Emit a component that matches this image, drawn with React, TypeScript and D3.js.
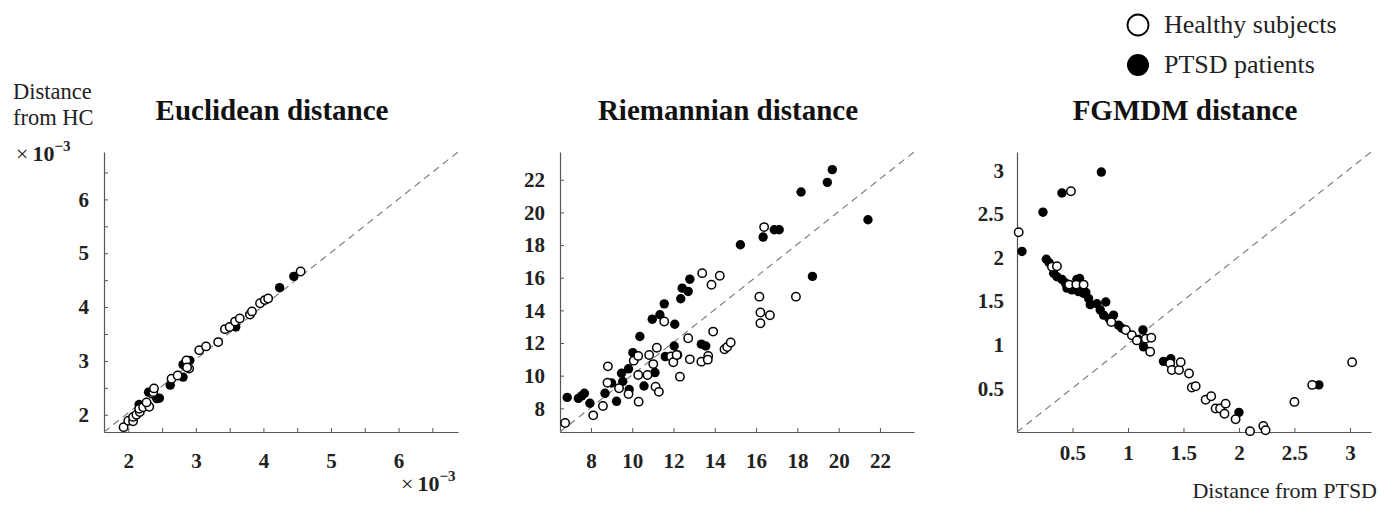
import React, { useEffect, useRef } from "react";
import * as d3 from "d3";

// values: [distance from PTSD, distance from HC]
const eucHealthy = [
  [1.93, 1.77], [2.0, 1.89], [2.07, 1.88], [2.07, 1.96], [2.12, 2.0], [2.17, 2.05], [2.16, 2.11],
  [2.22, 2.14], [2.31, 2.15], [2.27, 2.23], [2.36, 2.39], [2.37, 2.42], [2.38, 2.49], [2.64, 2.67],
  [2.73, 2.73], [2.86, 3.01], [2.9, 2.86], [2.87, 2.88], [3.05, 3.2], [3.15, 3.27], [3.33, 3.35],
  [3.43, 3.59], [3.5, 3.63], [3.58, 3.73], [3.65, 3.79], [3.8, 3.86], [3.83, 3.92], [3.95, 4.07],
  [4.02, 4.13], [4.07, 4.16], [4.55, 4.66],
];
const eucPtsd = [
  [2.16, 2.19], [2.3, 2.42], [2.35, 2.39], [2.42, 2.3], [2.46, 2.31], [2.62, 2.55], [2.81, 2.7],
  [2.81, 2.93], [2.91, 3.01], [3.59, 3.63], [4.24, 4.36], [4.45, 4.57],
];

const riemHealthy = [
  [6.75, 7.1], [8.11, 7.57], [8.58, 8.14], [8.82, 10.57], [8.8, 9.57], [9.36, 9.23], [9.82, 8.87],
  [10.07, 10.92], [10.29, 11.21], [10.29, 10.04], [10.31, 8.41], [10.74, 10.04], [10.82, 11.27],
  [11.02, 10.71], [11.19, 11.71], [11.13, 9.32], [11.29, 9.01], [11.55, 13.32], [11.88, 11.17],
  [11.99, 10.82], [12.15, 11.27], [12.31, 9.94], [12.71, 12.29], [12.79, 11.0], [13.39, 16.28],
  [13.35, 10.86], [13.68, 11.21], [13.66, 10.98], [13.84, 15.57], [13.92, 12.7], [14.24, 16.12],
  [14.47, 11.62], [14.6, 11.75], [14.77, 12.03], [16.16, 14.84], [16.21, 13.87], [16.21, 13.21],
  [16.39, 19.1], [16.67, 13.7], [17.93, 14.84],
];
const riemPtsd = [
  [6.85, 8.67], [7.39, 8.61], [7.55, 8.76], [7.68, 8.92], [7.95, 8.31], [8.68, 8.92], [9.0, 9.55],
  [9.24, 8.43], [9.48, 10.15], [9.54, 9.64], [9.85, 9.15], [9.82, 10.42], [10.03, 11.41],
  [10.37, 12.4], [10.57, 9.37], [11.1, 10.19], [10.97, 13.46], [11.34, 13.73], [11.55, 14.4],
  [11.6, 11.17], [12.06, 13.15], [12.03, 11.82], [12.2, 11.27], [12.35, 14.71], [12.42, 15.36],
  [12.71, 15.16], [12.79, 15.91], [13.35, 11.93], [13.56, 11.82], [15.24, 18.02], [16.34, 18.49],
  [16.88, 18.94], [17.12, 18.94], [18.18, 21.25], [18.73, 16.08], [19.45, 21.84], [19.69, 22.62],
  [21.42, 19.55],
];

const fgHealthy = [
  [0.015, 2.29], [0.486, 2.76], [0.315, 1.895], [0.36, 1.9], [0.47, 1.69], [0.534, 1.69],
  [0.6, 1.69], [0.85, 1.26], [0.98, 1.17], [1.035, 1.11], [1.08, 1.05], [1.16, 1.07], [1.21, 1.08],
  [1.2, 0.92], [1.38, 0.785], [1.395, 0.71], [1.46, 0.71], [1.475, 0.8], [1.55, 0.67],
  [1.575, 0.51], [1.61, 0.525], [1.7, 0.37], [1.75, 0.41], [1.79, 0.27], [1.83, 0.27],
  [1.88, 0.325], [1.87, 0.21], [1.97, 0.146], [2.1, 0.01], [2.22, 0.07], [2.24, 0.02],
  [2.5, 0.345], [2.66, 0.54], [3.02, 0.8],
];
const fgPtsd = [
  [0.76, 2.98], [0.405, 2.74], [0.234, 2.52], [0.045, 2.07], [0.264, 1.98], [0.29, 1.94],
  [0.33, 1.82], [0.36, 1.78], [0.405, 1.75], [0.435, 1.71], [0.45, 1.65], [0.495, 1.63],
  [0.54, 1.75], [0.555, 1.61], [0.6, 1.59], [0.564, 1.76], [0.62, 1.6], [0.645, 1.53],
  [0.66, 1.46], [0.72, 1.47], [0.75, 1.4], [0.8, 1.49], [0.78, 1.34], [0.83, 1.3], [0.87, 1.34],
  [0.915, 1.225], [0.945, 1.19], [1.095, 1.06], [1.135, 1.17], [1.14, 0.976], [1.32, 0.81],
  [1.386, 0.84], [2.0, 0.225], [2.72, 0.54],
];

const titles = ["Euclidean distance", "Riemannian distance", "FGMDM distance"];
const legendLabels = ["Healthy subjects", "PTSD patients"];

const eucTicks = [2, 2.5, 3, 3.5, 4, 4.5, 5, 5.5, 6, 6.5];
const riemTicks = [8, 10, 12, 14, 16, 18, 20, 22];
const fgTicks = [0.5, 1, 1.5, 2, 2.5, 3];

const serif = "'Liberation Serif', 'Times New Roman', serif";
const W = 1385, H = 505;

const panels = [
  { title: titles[0], left: 104, right: 458, xDom: [1.64, 6.88], yDom: [1.68, 6.88], ticks: eucTicks,
    yTicks: true, healthy: eucHealthy, ptsd: eucPtsd, labelPad: 21, titleX: 272 },
  { title: titles[1], left: 560, right: 914, xDom: [6.5, 23.65], yDom: [6.55, 23.7], ticks: riemTicks,
    yTicks: true, healthy: riemHealthy, ptsd: riemPtsd, labelPad: 21, titleX: 728 },
  { title: titles[2], left: 1017, right: 1371, xDom: [0, 3.19], yDom: [0, 3.21], ticks: fgTicks,
    yTicks: false, healthy: fgHealthy, ptsd: fgPtsd, labelPad: 13, titleX: 1185 },
];

const App = () => {
  const ref = useRef<SVGGElement>(null);

  useEffect(() => {
    const svg = d3.select(ref.current);
    svg.selectAll("*").remove();
    const top = 152, bottom = 432;

    panels.forEach((p) => {
      const x = d3.scaleLinear().domain(p.xDom).range([p.left, p.right]);
      const y = d3.scaleLinear().domain(p.yDom).range([bottom, top]);
      const g = svg.append("g");

      const fmt = (d: number) => (Number.isInteger(d) || p.ticks === fgTicks ? String(d) : "");

      const xAxis = d3.axisBottom(x).tickValues(p.ticks).tickFormat(fmt as any)
        .tickSize(-4).tickSizeOuter(0).tickPadding(p.labelPad);
      const yAxis = d3.axisLeft(y).tickValues(p.ticks).tickFormat(fmt as any)
        .tickSize(p.yTicks ? -4 : 0).tickSizeOuter(0).tickPadding(p.yTicks ? 15 : 13);

      const gx = g.append("g").attr("transform", `translate(0,${bottom})`).call(xAxis);
      const gy = g.append("g").attr("transform", `translate(${p.left},0)`).call(yAxis);
      [gx, gy].forEach((a) => {
        a.select(".domain").attr("stroke", "#555").attr("stroke-width", 1.2);
        a.selectAll(".tick line").attr("stroke", "#555");
        a.selectAll("text").attr("font-family", serif).attr("font-size", 21)
          .attr("font-weight", "bold").attr("fill", "#222");
      });

      // identity reference line, corner to corner
      g.append("line")
        .attr("x1", x(p.xDom[0])).attr("y1", y(p.yDom[0]))
        .attr("x2", x(p.xDom[1])).attr("y2", y(p.yDom[1]))
        .attr("stroke", "#777").attr("stroke-width", 1.1).attr("stroke-dasharray", "7,5");

      g.selectAll(".ptsd").data(p.ptsd).enter().append("circle")
        .attr("cx", (d) => x(d[0])).attr("cy", (d) => y(d[1])).attr("r", 4.7)
        .attr("fill", "#000");
      g.selectAll(".hc").data(p.healthy).enter().append("circle")
        .attr("cx", (d) => x(d[0])).attr("cy", (d) => y(d[1])).attr("r", 4.2)
        .attr("fill", "#fff").attr("stroke", "#000").attr("stroke-width", 1.5);

      g.append("text").attr("x", p.titleX).attr("y", 120).attr("text-anchor", "middle")
        .attr("font-family", serif).attr("font-size", 29).attr("font-weight", "bold")
        .attr("fill", "#111").text(p.title);
    });
  }, []);

  const times = (xPos: number, yPos: number) => (
    <text x={xPos} y={yPos} fontFamily={serif} fontSize={22} fill="#222">
      ×<tspan dx={4} fontWeight="bold">10</tspan>
      <tspan dy={-10} fontSize={15} fontWeight="bold">−3</tspan>
    </text>
  );

  return (
    <svg width={W} height={H} style={{ position: "absolute", left: 0, top: 0, background: "#fff" }}>
      <g ref={ref} />
      <text x={13} y={99} fontFamily={serif} fontSize={22.5} fill="#222">Distance</text>
      <text x={13} y={125} fontFamily={serif} fontSize={22.5} fill="#222">from HC</text>
      {times(16, 161)}
      {times(401, 491)}
      <text x={1377} y={498} textAnchor="end" fontFamily={serif} fontSize={22} fill="#222">
        Distance from PTSD
      </text>
      <circle cx={1138} cy={25} r={10.5} fill="#fff" stroke="#000" strokeWidth={1.8} />
      <text x={1164} y={33} fontFamily={serif} fontSize={26} fill="#222">{legendLabels[0]}</text>
      <circle cx={1138} cy={65} r={11} fill="#000" />
      <text x={1164} y={73} fontFamily={serif} fontSize={26} fill="#222">{legendLabels[1]}</text>
    </svg>
  );
};

export default App;
